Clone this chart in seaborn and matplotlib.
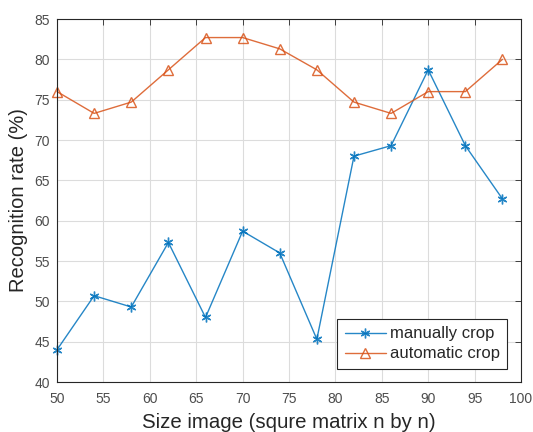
import matplotlib
matplotlib.use("Agg")
import matplotlib.pyplot as plt
import seaborn as sns
import pandas as pd

sizes = [50, 54, 58, 62, 66, 70, 74, 78, 82, 86, 90, 94, 98]
manual = [44.0, 50.7, 49.3, 57.3, 48.0, 58.7, 56.0, 45.3, 68.0, 69.3, 78.7, 69.3, 62.7]
automatic = [76.0, 73.3, 74.7, 78.7, 82.7, 82.7, 81.3, 78.7, 74.7, 73.3, 76.0, 76.0, 80.0]
series_names = ["manually crop", "automatic crop"]
xticks = [50, 55, 60, 65, 70, 75, 80, 85, 90, 95, 100]
yticks = [40, 45, 50, 55, 60, 65, 70, 75, 80, 85]

df = pd.DataFrame({
    "size": sizes * 2,
    "rate": manual + automatic,
    "series": [series_names[0]] * len(sizes) + [series_names[1]] * len(sizes),
})

sns.set_style("white")
plt.rcParams["font.family"] = ["Liberation Sans", "DejaVu Sans"]

fig = plt.figure(figsize=(5.33, 4.32), dpi=100)
ax = fig.add_axes([0.107, 0.1157, 0.8705, 0.8403])

palette = {series_names[0]: "#0072BD", series_names[1]: "#D95319"}
markers = {series_names[0]: "*", series_names[1]: "^"}
sns.lineplot(data=df, x="size", y="rate", hue="series", style="series",
             palette=palette, markers=markers, dashes=False, ax=ax,
             linewidth=1.0, markersize=7, markerfacecolor="none",
             markeredgewidth=1.0)

for line in ax.get_lines():
    c = line.get_color()
    line.set_markeredgecolor(c)
    line.set_markerfacecolor("none")
    line.set_clip_on(False)
    line.set_alpha(0.85)
    if line.get_marker() == "*":
        line.set_marker((6, 2, 0))
        line.set_markersize(7)

ax.set_xlim(50, 100)
ax.set_ylim(40, 85)
ax.set_xticks(xticks)
ax.set_yticks(yticks)
ax.grid(True, color="#dcdcdc", linewidth=0.8)
ax.tick_params(direction="in", length=4, width=0.6, labelsize=10, pad=7,
               colors="#262626", labelcolor="#4d4d4d", top=True, right=True,
               labeltop=False, labelright=False)
ax.tick_params(axis="y", pad=5)
for s in ax.spines.values():
    s.set_color("#262626")
    s.set_linewidth(0.8)
ax.set_xlabel("Size image (squre matrix n by n)", fontsize=14.7, color="#262626", labelpad=5.5)
ax.set_ylabel("Recognition rate (%)", fontsize=14.5, color="#262626", labelpad=5)

leg = ax.legend(title=None, loc="lower right", bbox_to_anchor=(0.970, 0.036),
                fontsize=12, frameon=True, fancybox=False, framealpha=1,
                edgecolor="#262626", handlelength=2.5, borderpad=0.45,
                labelspacing=0.3, handletextpad=0.2, borderaxespad=0.0)
leg.get_frame().set_linewidth(0.8)
for h in leg.legend_handles:
    h.set_markerfacecolor("none")
    if h.get_marker() == "*":
        h.set_marker((6, 2, 0))
        h.set_markersize(7)

fig.savefig("out.png", dpi=100)
